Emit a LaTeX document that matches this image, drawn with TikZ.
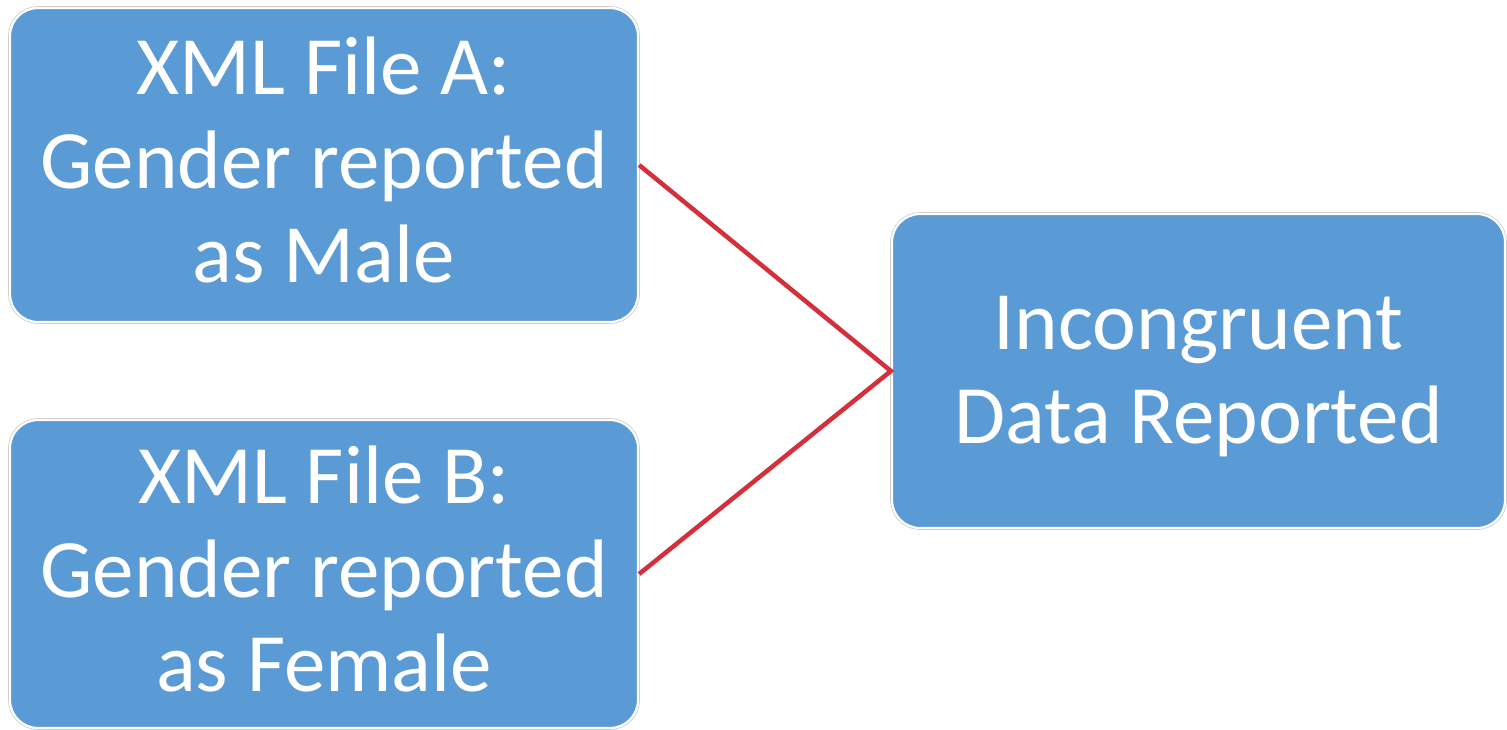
\documentclass[tikz,border=0pt]{standalone}
\usepackage{fontspec}
\setmainfont{Carlito}
\definecolor{boxblue}{HTML}{5B9BD5}
\definecolor{linkred}{HTML}{D3303B}
\definecolor{rimgray}{HTML}{C8C8C8}
\begin{document}
\begin{tikzpicture}[x=1pt,y=-1pt,
  card/.style={rectangle, rounded corners=28pt, fill=boxblue,
    draw=white, line width=2.2pt,
    preaction={draw=rimgray, line width=3.6pt},
    text=white, align=center, inner sep=0pt,
    font=\fontsize{83}{94}\selectfont},
  threeline/.style={text height=242pt, text depth=7pt},
  twoline/.style={text height=148pt, text depth=4pt},
  link/.style={draw=linkred, line width=4.5pt}]
  \useasboundingbox (0,0) rectangle (1507,729);
  \node[card, threeline, minimum width=628pt, minimum height=314pt] (A) at (324,165)
    {XML File A:\\Gender reported\\as Male};
  \node[card, threeline, minimum width=628pt, minimum height=308pt] (B) at (324,574)
    {XML File B:\\Gender reported\\as Female};
  \node[card, twoline, minimum width=613pt, minimum height=314pt] (C) at (1198.5,371)
    {Incongruent\\Data Reported};
  \draw[link] (A.east) -- (C.west) -- (B.east);
\end{tikzpicture}
\end{document}
